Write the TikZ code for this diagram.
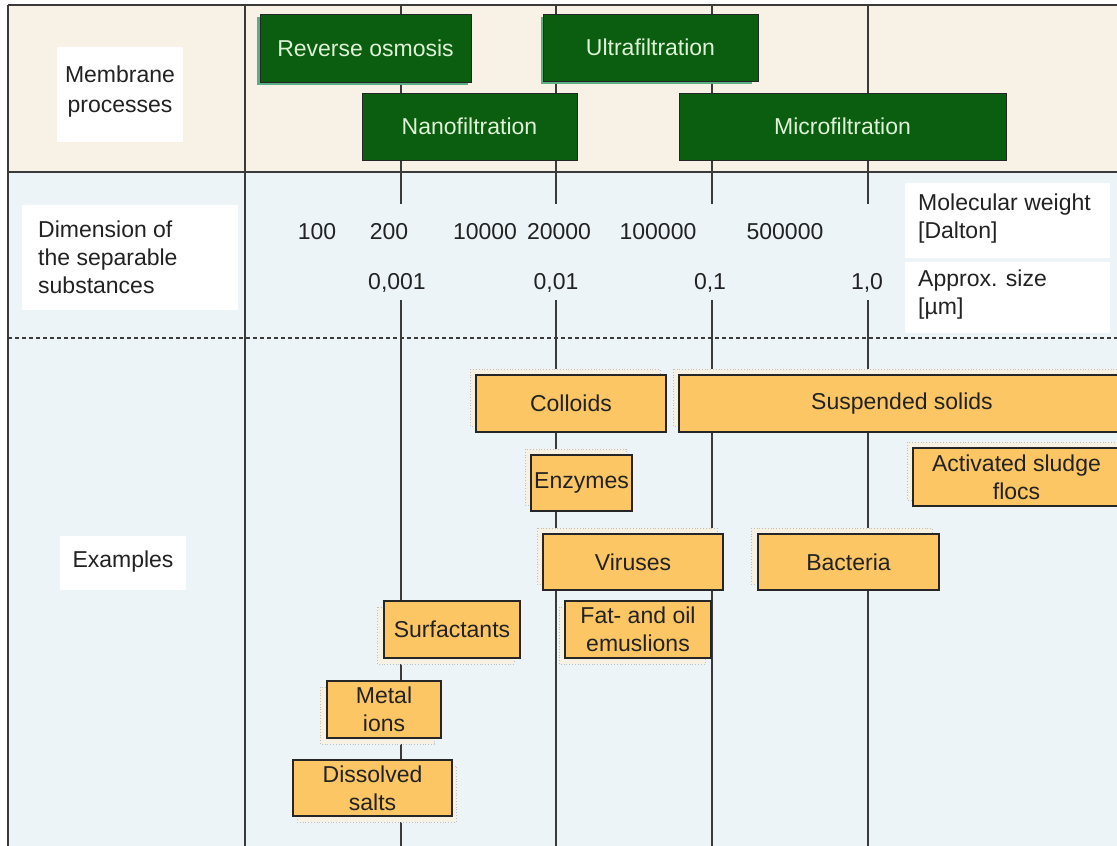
\documentclass[tikz,border=0pt]{standalone}
\usepackage{fontspec}
\setmainfont{Liberation Sans}
\definecolor{beige}{HTML}{F8F1E5}
\definecolor{lblue}{HTML}{ECF4F7}
\definecolor{dgreen}{HTML}{0B5D0F}
\definecolor{sgreen}{HTML}{5BAF85}
\definecolor{gtext}{HTML}{DDF2D6}
\definecolor{orng}{HTML}{FCC665}
\definecolor{oshadow}{HTML}{F6F1E2}
\definecolor{txt}{HTML}{222222}
\definecolor{grid}{HTML}{3A3A3A}
\begin{document}
\begin{tikzpicture}[x=1pt,y=-1pt,
  every node/.style={font=\fontsize{23}{28}\selectfont, text=txt, inner sep=0pt},
  proc/.style={draw=black!85, line width=1pt, fill=dgreen, text=gtext},
  ex/.style={draw=black!85, line width=1.2pt, fill=orng, align=center},
  gridline/.style={draw=grid, line width=1.1pt}]
\useasboundingbox (0,0) rectangle (1117,846);
% backgrounds
\fill[white] (0,0) rectangle (1117,846);
\fill[beige] (8,5) rectangle (1117,172);
\fill[lblue] (8,172) rectangle (1117,846);
% white label panels
\fill[white] (57,47) rectangle (183,142);
\fill[white] (22,205) rectangle (238,310);
\fill[white] (60,536) rectangle (186,590);
\fill[white] (905,183) rectangle (1110,258);
\fill[white] (905,262) rectangle (1110,333);
% grid lines
\draw[gridline] (8,5) -- (1117,5);
\draw[gridline] (8,172) -- (1117,172);
\draw[gridline, dashed, dash pattern=on 4pt off 3pt] (8,338) -- (1117,338);
\draw[gridline] (8,5) -- (8,846);
\draw[gridline] (245,5) -- (245,846);
\foreach \x in {401,556,712,868}{
  \draw[gridline] (\x,5) -- (\x,204);
  \draw[gridline] (\x,300) -- (\x,846);
}
% left labels
\node[align=center, font=\fontsize{23}{30}\selectfont] (mp) at (120,92) {Membrane\\processes};
\node[align=left, anchor=west] (dim) at (38,257) {Dimension of\\the separable\\substances};
\node (exl) at (123,562) {Examples};
\node[align=left, anchor=west] (mw) at (918,219) {Molecular weight\\{[Dalton]}};
\node[align=left, anchor=west] (as) at (918,295) {Approx. size\\{[µm]}};
% numbers
\node (n100) at (317,232) {100};
\node (n200) at (389,232) {200};
\node (n10k) at (485,232) {10000};
\node (n20k) at (559,232) {20000};
\node (n100k) at (658,232) {100000};
\node (n500k) at (785,232) {500000};
\node (s1) at (397,283) {0,001};
\node (s2) at (556,283) {0,01};
\node (s3) at (710,283) {0,1};
\node (s4) at (867,283) {1,0};
% membrane processes (shadows then boxes)
\fill[sgreen] (257,17) rectangle (468,85);
\fill[sgreen] (541,17) rectangle (752,84);
\node[proc, minimum width=211, minimum height=68] (ro) at (365.5,48) {Reverse osmosis};
\node[proc, minimum width=215, minimum height=67] (uf) at (650.5,47.5) {Ultrafiltration};
\node[proc, minimum width=215, minimum height=67] (nf) at (469.5,126.5) {Nanofiltration};
\node[proc, minimum width=327, minimum height=67] (mf) at (842.5,126.5) {Microfiltration};
% example shadows
\tikzset{osh/.style={fill=oshadow, draw=black!25, dotted, line width=0.8pt}}
\draw[osh] (470,369) rectangle (660,426);
\draw[osh] (673,369) rectangle (1125,426);
\draw[osh] (525,449) rectangle (626,505);
\draw[osh] (907,442) rectangle (1125,500);
\draw[osh] (537,528) rectangle (717,584);
\draw[osh] (751,528) rectangle (932,584);
\draw[osh] (377,607) rectangle (514,664);
\draw[osh] (559,607) rectangle (705,664);
\draw[osh] (320,687) rectangle (434,744);
\draw[osh] (297,766) rectangle (456,822);
% examples
\node[ex, minimum width=190, minimum height=57] (col) at (571,403.5) {Colloids};
\node[ex, minimum width=446, minimum height=57] (ss) at (902,403.5) {Suspended solids};
\node[ex, minimum width=101, minimum height=56] (enz) at (581.5,483) {Enzymes};
\node[ex, minimum width=207, minimum height=58] (asf) at (1016.5,477) {Activated sludge\\flocs};
\node[ex, minimum width=180, minimum height=56] (vir) at (633,562) {Viruses};
\node[ex, minimum width=181, minimum height=56] (bac) at (848.5,562) {Bacteria};
\node[ex, minimum width=136, minimum height=57] (sur) at (452,629.5) {Surfactants};
\node[ex, minimum width=146, minimum height=57] (fat) at (638,629.5) {Fat- and oil\\emuslions};
\node[ex, minimum width=114, minimum height=57] (met) at (384,709.5) {Metal\\ions};
\node[ex, minimum width=159, minimum height=56] (dis) at (372.5,788) {Dissolved\\salts};
\end{tikzpicture}
\end{document}
